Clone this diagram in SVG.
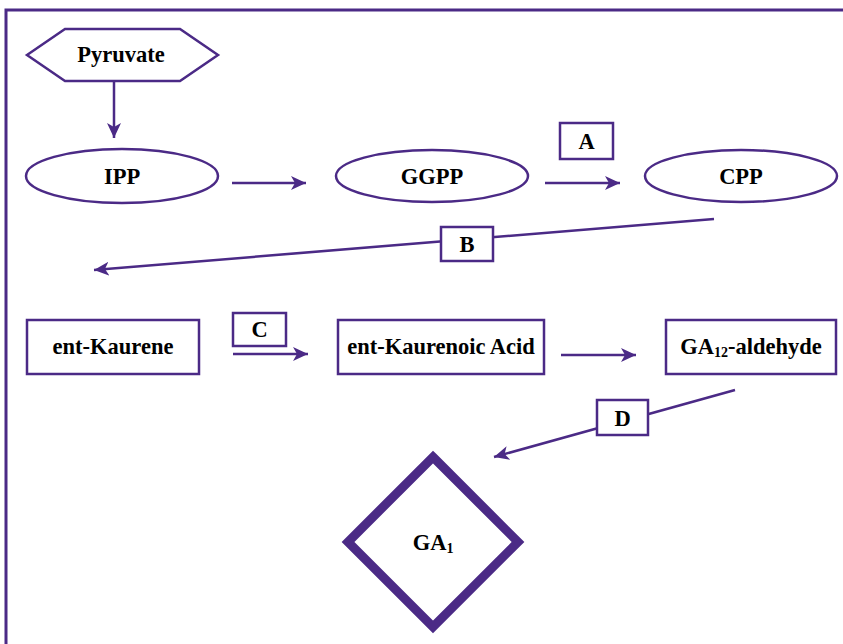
<svg xmlns="http://www.w3.org/2000/svg" width="843" height="644" viewBox="0 0 843 644">
<defs>
<style>
.ln{stroke:#4b2a86;stroke-width:2.5;fill:none}
.nd{stroke:#4b2a86;stroke-width:2.5;fill:#fff}
.tx{font-family:'Liberation Serif','Times New Roman',serif;font-weight:bold;font-size:22.5px;fill:#000;text-anchor:middle}
.sb{font-size:14px}
</style>
<marker id="ah" markerUnits="userSpaceOnUse" markerWidth="20" markerHeight="20" refX="15" refY="7" orient="auto">
<path d="M0,0 L15,7 L0,14 L4,7 z" fill="#4b2a86"/>
</marker>
</defs>
<rect width="843" height="644" fill="#fff"/>
<path d="M6,644 L6,10 L843,10" stroke="#4b2a86" stroke-width="3" fill="none"/>
<g id="connectors">
<line class="ln" x1="114" y1="82" x2="114" y2="138" marker-end="url(#ah)"/>
<line class="ln" x1="232" y1="183" x2="306" y2="183" marker-end="url(#ah)"/>
<line class="ln" x1="545" y1="183" x2="620" y2="183" marker-end="url(#ah)"/>
<line class="ln" x1="714" y1="219" x2="94" y2="270" marker-end="url(#ah)"/>
<line class="ln" x1="233" y1="354" x2="308" y2="354" marker-end="url(#ah)"/>
<line class="ln" x1="561" y1="355" x2="636" y2="355" marker-end="url(#ah)"/>
<line class="ln" x1="735" y1="390" x2="494" y2="457" marker-end="url(#ah)"/>
</g>
<g id="pyruvate">
<polygon class="nd" points="27,55 65,29 180,29 218,55 180,81 65,81"/>
<text class="tx" x="121" y="62">Pyruvate</text>
</g>
<g id="ipp">
<ellipse class="nd" cx="122" cy="176" rx="96" ry="27"/>
<text class="tx" x="122" y="184">IPP</text>
</g>
<g id="ggpp">
<ellipse class="nd" cx="432" cy="176" rx="96" ry="26"/>
<text class="tx" x="432" y="184">GGPP</text>
</g>
<g id="cpp">
<ellipse class="nd" cx="741" cy="176" rx="96" ry="26"/>
<text class="tx" x="741" y="184">CPP</text>
</g>
<g id="labelA">
<rect class="nd" x="560" y="123" width="53" height="36"/>
<text class="tx" x="586.5" y="149">A</text>
</g>
<g id="labelB">
<rect class="nd" x="441" y="227" width="52" height="34"/>
<text class="tx" x="467" y="252">B</text>
</g>
<g id="entKaurene">
<rect class="nd" x="27" y="320" width="172" height="54"/>
<text class="tx" x="113" y="354">ent-Kaurene</text>
</g>
<g id="labelC">
<rect class="nd" x="233" y="313" width="53" height="33"/>
<text class="tx" x="259.5" y="337">C</text>
</g>
<g id="entKaurenoicAcid">
<rect class="nd" x="338" y="320" width="206" height="54"/>
<text class="tx" x="441" y="354">ent-Kaurenoic Acid</text>
</g>
<g id="ga12">
<rect class="nd" x="666" y="320" width="170" height="54"/>
<text class="tx" x="751" y="354">GA<tspan class="sb" dy="3">12</tspan><tspan dy="-3">-aldehyde</tspan></text>
</g>
<g id="labelD">
<rect class="nd" x="597" y="400" width="51" height="35"/>
<text class="tx" x="622.5" y="426">D</text>
</g>
<g id="ga1">
<polygon points="433,457 518,542 433,627 348,542" fill="#fff" stroke="#4b2a86" stroke-width="9"/>
<text class="tx" x="433" y="550">GA<tspan class="sb" dy="3">1</tspan></text>
</g>
</svg>
